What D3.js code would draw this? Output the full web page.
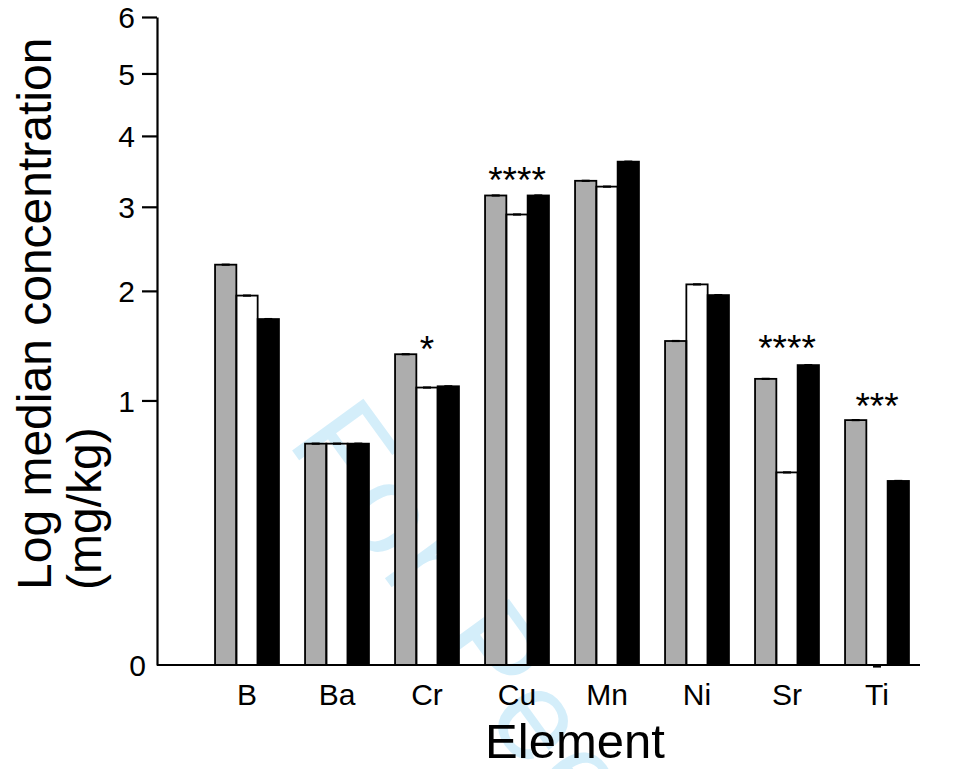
<!DOCTYPE html>
<html>
<head>
<meta charset="utf-8">
<script src="https://cdn.jsdelivr.net/npm/d3@7"></script>
<style>
  body { margin: 0; background: #fff; }
  text { font-family: "Liberation Sans", Arial, sans-serif; fill: #000; }
</style>
</head>
<body>
<div id="wrapper"></div>
<script>
// data (sqrt-scaled y axis)
const elements = ["B", "Ba", "Cr", "Cu", "Mn", "Ni", "Sr", "Ti"]
const grayValues  = [2.29, 0.70, 1.38, 3.15, 3.35, 1.50, 1.17, 0.857]
const whiteValues = [1.95, 0.70, 1.10, 2.90, 3.27, 2.07, 0.53, 0]
const blackValues = [1.71, 0.70, 1.11, 3.15, 3.62, 1.955, 1.285, 0.484]
const yTicks = [0, 1, 2, 3, 4, 5, 6]

const annoElements = ["Cr", "Cu", "Sr", "Ti"]
const annoLabels = ["*", "****", "****", "***"]
const annoLevels = [1.31, 3.18, 1.32, 0.865]

// white bars are see-through, the watermark shows in them
const seriesFill = ["#adadad", "none", "#000000"]

// 1. dimensions
const dimensions = {
  width: 962,
  height: 769,
  axisX: 157,
  plotTop: 17,
  plotBottom: 665,
  plotRight: 920,
}

// 2. canvas
const svg = d3.select("#wrapper")
  .append("svg")
    .attr("width", dimensions.width)
    .attr("height", dimensions.height)

// watermark goes first so the bars sit on top
svg.append("text")
  .attr("transform", "translate(286,442) rotate(54)")
  .style("font-size", "128px")
  .style("letter-spacing", "5px")
  .style("fill", "#d4eefa")
  .text("For Peer Review")

// 3. scales
const yScale = d3.scaleSqrt()
  .domain([0, 6])
  .range([dimensions.plotBottom, dimensions.plotTop])

const x0 = d3.scaleBand()
  .domain(elements)
  .range([202, 922])
  .paddingInner(0.29)
  .paddingOuter(0.145)

const x1 = d3.scaleBand()
  .domain([0, 1, 2])
  .range([0, x0.bandwidth()])

const series = [grayValues, whiteValues, blackValues]
const rows = elements.map((el, i) => ({
  element: el,
  values: series.map((s, k) => ({ k: k, v: s[i] }))
}))

// 4. bars
const groups = svg.append("g")
  .selectAll("g")
  .data(rows)
  .join("g")
    .attr("transform", d => `translate(${x0(d.element)},0)`)

groups.selectAll("rect")
  .data(d => d.values)
  .join("rect")
    .attr("x", d => x1(d.k))
    .attr("y", d => yScale(d.v))
    .attr("width", x1.bandwidth())
    .attr("height", d => yScale(0) - yScale(d.v))
    .attr("fill", d => seriesFill[d.k])
    .attr("stroke", "#000")
    .attr("stroke-width", 1.8)

// tiny error caps
groups.selectAll("line.cap")
  .data(d => d.values)
  .join("line")
    .attr("class", "cap")
    .attr("x1", d => x1(d.k) + x1.bandwidth() / 2 - 4)
    .attr("x2", d => x1(d.k) + x1.bandwidth() / 2 + 4)
    .attr("y1", d => yScale(d.v) + (d.v === 0 ? 1.5 : 0))
    .attr("y2", d => yScale(d.v) + (d.v === 0 ? 1.5 : 0))
    .attr("stroke", "#000")
    .attr("stroke-width", 2.2)

// 5. significance marks
annoElements.forEach((el, i) => {
  svg.append("text")
    .attr("x", x0(el) + x0.bandwidth() / 2)
    .attr("y", yScale(annoLevels[i]))
    .attr("text-anchor", "middle")
    .style("font-size", "37px")
    .text(annoLabels[i])
})

// 6. axes
const yAxis = d3.axisLeft(yScale)
  .tickValues(yTicks)
  .tickFormat(d3.format("d"))
  .tickSize(15)
  .tickSizeOuter(0)
  .tickPadding(7)

const yAxisG = svg.append("g")
  .attr("transform", `translate(${dimensions.axisX},0)`)
  .call(yAxis)

yAxisG.select(".domain").attr("stroke-width", 2.2)
yAxisG.selectAll(".tick line").attr("stroke-width", 2.2)
yAxisG.selectAll(".tick text")
  .style("font-size", "30px")
  .attr("dy", "0.36em")
yAxisG.selectAll(".tick").filter(d => d === 0).select("line").remove()
yAxisG.selectAll(".tick").filter(d => d === 0).select("text").attr("x", -11)

svg.append("line")
  .attr("x1", dimensions.axisX)
  .attr("x2", dimensions.plotRight)
  .attr("y1", dimensions.plotBottom)
  .attr("y2", dimensions.plotBottom)
  .attr("stroke", "#000")
  .attr("stroke-width", 2.2)

const xAxisG = svg.append("g")
  .attr("transform", `translate(0,${dimensions.plotBottom})`)
  .call(d3.axisBottom(x0).tickSize(0).tickPadding(19))

xAxisG.select(".domain").remove()
xAxisG.selectAll(".tick text")
  .style("font-size", "30px")
  .attr("dy", "0.71em")

// 7. labels
svg.append("text")
  .attr("x", 575)
  .attr("y", 758)
  .attr("text-anchor", "middle")
  .style("font-size", "49px")
  .text("Element")

const yTitle = svg.append("text")
  .attr("transform", "translate(51,590) rotate(-90)")
  .attr("text-anchor", "start")
  .style("font-size", "48px")

yTitle.append("tspan").attr("x", 0).attr("y", 0).text("Log median concentration")
yTitle.append("tspan").attr("x", 0).attr("y", 50).text("(mg/kg)")
</script>
</body>
</html>
